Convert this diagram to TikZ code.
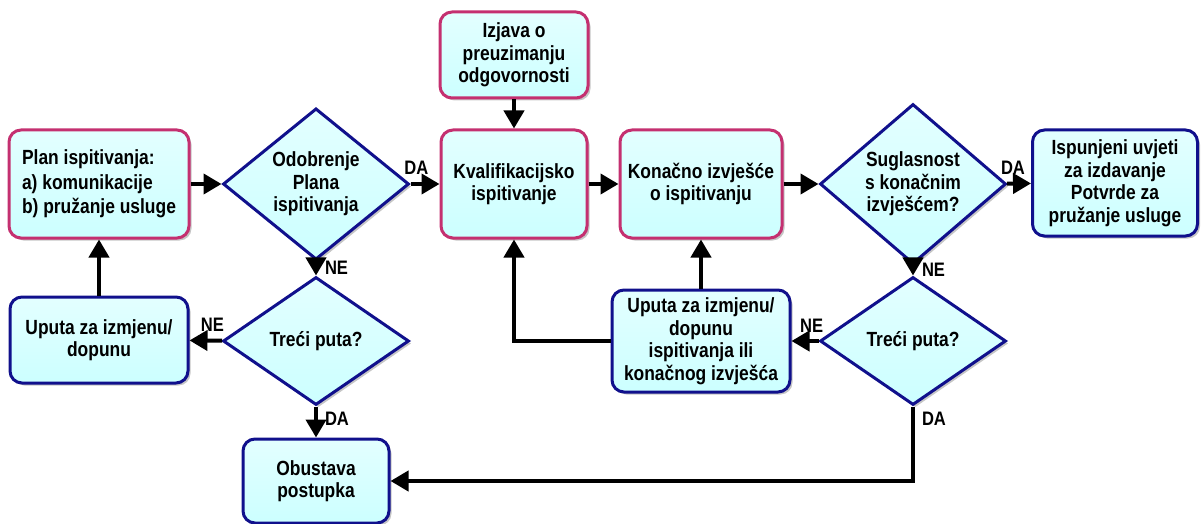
\documentclass[tikz,border=0pt]{standalone}
\usepackage{fontspec}
\setmainfont[FakeStretch=0.85]{Liberation Sans}
\usepackage{tikz}
\usetikzlibrary{arrows.meta,positioning,shapes.geometric,shadows}
\definecolor{boxfill}{RGB}{204,255,255}
\definecolor{rimpink}{RGB}{196,48,112}
\definecolor{rimblue}{RGB}{16,16,140}
\tikzset{padded/.style={rectangle, rounded corners=12, line width=3pt, inner sep=2pt, align=center,
    top color=boxfill!55!white, bottom color=boxfill, font=\bfseries\fontsize{20.5}{22.5}\selectfont,
    drop shadow={shadow xshift=2.5pt, shadow yshift=-2.5pt, opacity=0.45}}}
\tikzset{pinkpadded/.style={padded, draw=rimpink}}
\tikzset{bluepadded/.style={padded, draw=rimblue}}
\tikzset{decision/.style={diamond, draw=rimblue, line width=3pt, inner sep=0pt, align=center,
    top color=boxfill!55!white, bottom color=boxfill, font=\bfseries\fontsize{20.5}{22.5}\selectfont,
    minimum width=186pt, minimum height=130pt,
    drop shadow={shadow xshift=2.5pt, shadow yshift=-2.5pt, opacity=0.45}}}
\tikzset{arr/.style={draw, line width=4pt, -{Triangle[length=18pt,width=20pt]}}}
\tikzset{lbl/.style={font=\bfseries\fontsize{19.5}{21}\selectfont, inner sep=2pt}}
\tikzset{lblup/.style={lbl, above=5pt}}
\tikzset{lblright/.style={lbl, right=5pt}}

\begin{document}
\begin{tikzpicture}[x=1pt,y=-1pt]
		\useasboundingbox (0,0) rectangle (1202,524);
		
		\node[pinkpadded, align=left, minimum width=180pt, minimum height=108pt] (plan) at (99,184)
			{Plan ispitivanja:\\[2pt] a) komunikacije\\[2pt] b) pružanje usluge};
		\node[decision] (odobrenje) at (316,184){Odobrenje\\ Plana\\ ispitivanja};
		\node[decision, minimum height=128pt] (treci1) at (316,341){Treći puta?};
		\node[bluepadded, minimum width=178pt, minimum height=86pt] (uputa1) at (99,340){Uputa za izmjenu/\\ dopunu};
		\node[bluepadded, minimum width=146pt, minimum height=84pt] (obustava) at (316,481){Obustava\\ postupka};
		
		\node[pinkpadded, minimum width=148pt, minimum height=86pt] (izjava) at (514,55){Izjava o\\ preuzimanju\\ odgovornosti};
		\node[pinkpadded, minimum width=146pt, minimum height=108pt] (kvalif) at (514,184){Kvalifikacijsko\\ ispitivanje};
		\node[pinkpadded, minimum width=162pt, minimum height=108pt] (konacno) at (701,184){Konačno izvješće\\ o ispitivanju};
		\node[decision] (suglasnost) at (913,184){Suglasnost\\ s konačnim\\ izvješćem?};
		\node[bluepadded, minimum width=165pt, minimum height=106pt] (ispunjeni) at (1115,183)
			{Ispunjeni uvjeti\\ za izdavanje\\ Potvrde za\\ pružanje usluge};
		\node[decision, minimum height=128pt] (treci2) at (913,341){Treći puta?};
		\node[bluepadded, minimum width=178pt, minimum height=102pt] (uputa2) at (701,341)
			{Uputa za izmjenu/\\ dopunu\\ ispitivanja ili\\ konačnog izvješća};
		
		\draw[arr] (plan) -- (odobrenje);
		\draw[arr] (odobrenje) -- node[lblup, pos=0.2] (da1) {DA} (kvalif);
		\draw[arr] (izjava) -- (kvalif);
		\draw[arr] (kvalif) -- (konacno);
		\draw[arr] (konacno) -- (suglasnost);
		\draw[arr] (suglasnost) -- node[lblup, pos=0.25] (da2) {DA} (ispunjeni);
		
		\draw[arr] (odobrenje) -- node[lblright, pos=0.45] (ne1) {NE} (treci1);
		\draw[arr] (treci1) -- node[lblup, pos=0.3] (ne2) {NE} (uputa1);
		\draw[arr] (uputa1) -- (plan);
		\draw[arr] (treci1) -- node[lblright, pos=0.4] (da3) {DA} (obustava);
		
		\draw[arr] (suglasnost) -- node[lblright, pos=0.45] (ne3) {NE} (treci2);
		\draw[arr] (treci2) -- node[lblup, pos=0.25] (ne4) {NE} (uputa2);
		\draw[arr] (uputa2) -- (konacno);
		\draw[arr] (uputa2.west) -| (kvalif.south);
		\draw[arr] (treci2.south) |- node[lblright, pos=0.08] (da4) {DA} (obustava.east);
	\end{tikzpicture}
\end{document}
